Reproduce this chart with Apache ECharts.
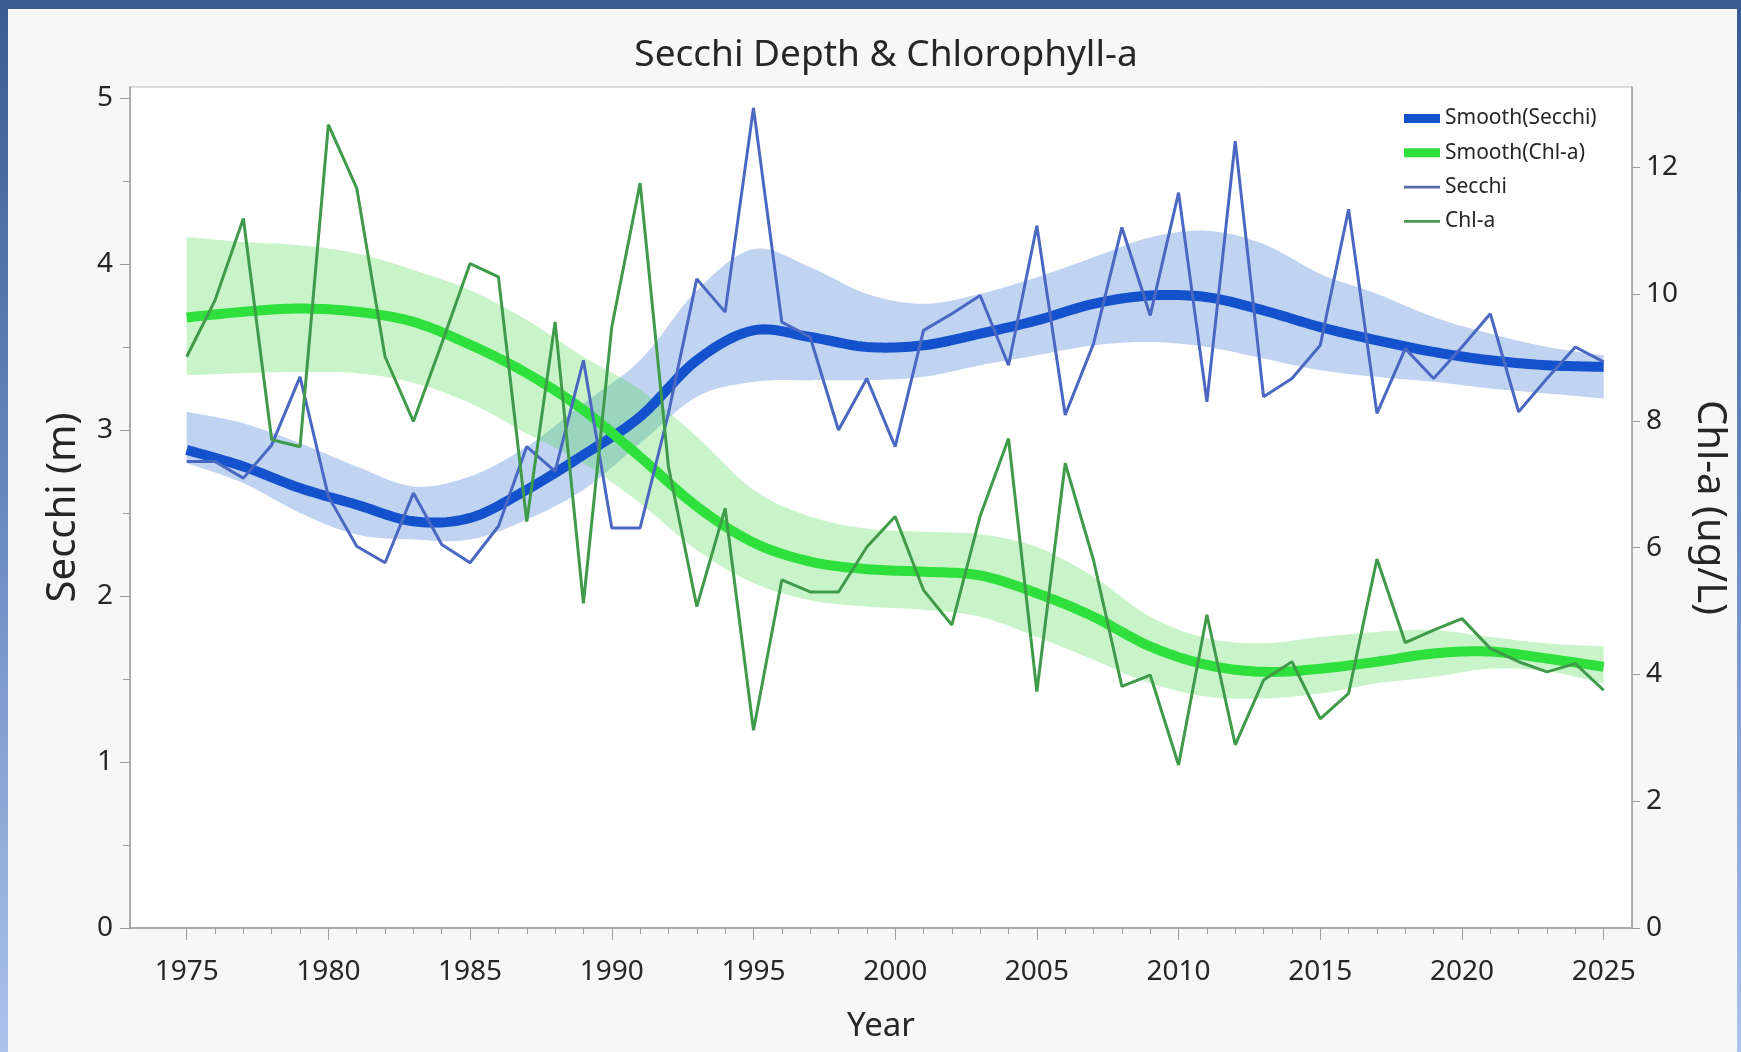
<!DOCTYPE html>
<html><head><meta charset="utf-8">
<script src="https://cdn.jsdelivr.net/npm/echarts@6/dist/echarts.min.js"></script>
<style>
html,body{margin:0;padding:0;}
body{width:1741px;height:1052px;background:linear-gradient(180deg,#3a5b8f 0%,#6a8bc0 50%,#aec3ea 100%);overflow:hidden;}
#c{position:absolute;left:0;top:0;width:1741px;height:1052px;}
</style></head><body><div id="c"></div>
<script>
const years = [1975,1976,1977,1978,1979,1980,1981,1982,1983,1984,1985,1986,1987,1988,1989,1990,1991,1992,1993,1994,1995,1996,1997,1998,1999,2000,2001,2002,2003,2004,2005,2006,2007,2008,2009,2010,2011,2012,2013,2014,2015,2016,2017,2018,2019,2020,2021,2022,2023,2024,2025];
const secchi = [2.81,2.81,2.71,2.91,3.32,2.60,2.30,2.20,2.62,2.31,2.20,2.42,2.90,2.75,3.42,2.41,2.41,3.10,3.91,3.71,4.94,3.65,3.56,3.00,3.31,2.90,3.60,3.70,3.81,3.39,4.23,3.09,3.52,4.22,3.69,4.43,3.17,4.74,3.20,3.31,3.51,4.33,3.10,3.49,3.31,3.50,3.70,3.11,3.31,3.50,3.41];
const chla = [9.01,9.90,11.19,7.70,7.59,12.67,11.67,9.01,7.99,9.22,10.48,10.27,6.41,9.56,5.12,9.48,11.75,7.28,5.07,6.62,3.12,5.49,5.30,5.30,6.01,6.49,5.33,4.78,6.50,7.72,3.73,7.33,5.80,3.81,3.99,2.57,4.94,2.89,3.91,4.20,3.30,3.70,5.82,4.50,4.70,4.88,4.41,4.20,4.04,4.17,3.75];

const smoothYears = [1975,1977,1979,1981,1983,1985,1987,1989,1991,1993,1995,1997,1999,2001,2003,2005,2007,2009,2011,2013,2015,2017,2019,2021,2023,2025];
const secchiSmooth = [2.88,2.78,2.65,2.55,2.45,2.47,2.64,2.85,3.08,3.42,3.60,3.56,3.50,3.51,3.58,3.66,3.76,3.81,3.80,3.72,3.62,3.54,3.47,3.42,3.39,3.38];
const secchiUpper  = [3.11,3.04,2.92,2.78,2.66,2.72,2.90,3.16,3.42,3.84,4.09,3.98,3.82,3.76,3.82,3.92,4.04,4.16,4.20,4.12,3.94,3.82,3.68,3.58,3.50,3.45];
const secchiLower  = [2.80,2.68,2.50,2.37,2.34,2.34,2.46,2.64,2.92,3.20,3.29,3.30,3.30,3.32,3.39,3.45,3.51,3.53,3.50,3.43,3.36,3.32,3.29,3.25,3.22,3.19];
const chlSmooth = [9.63,9.72,9.77,9.72,9.56,9.20,8.75,8.17,7.43,6.65,6.08,5.78,5.66,5.62,5.56,5.28,4.91,4.44,4.15,4.04,4.09,4.20,4.33,4.36,4.25,4.12];
const chlUpper  = [10.90,10.82,10.77,10.64,10.38,10.06,9.59,9.01,8.49,7.75,6.91,6.49,6.30,6.25,6.21,6.01,5.54,4.91,4.57,4.49,4.59,4.67,4.70,4.59,4.49,4.44];
const chlLower  = [8.72,8.75,8.77,8.75,8.60,8.28,7.80,7.33,6.70,5.96,5.44,5.17,5.07,5.02,4.91,4.59,4.23,3.86,3.65,3.62,3.70,3.86,3.96,4.09,4.05,3.86];

const xTicks = [1975,1980,1985,1990,1995,2000,2005,2010,2015,2020,2025];
const secchiTicks = [0,1,2,3,4,5];
const secchiMinorTicks = [0.5,1.5,2.5,3.5,4.5];
const chlTicks = [0,2,4,6,8,10,12];

const FONT = 'Noto Sans';
const TXT = '#262626';
const AX = '#9c9c9c';
const C_SECCHI_SMOOTH = '#1352cc';
const C_CHL_SMOOTH = '#2fe03c';
const C_SECCHI = '#4a68c2';
const C_CHL = '#3f9a4a';

// Catmull-Rom curve through the read points (rendering helper only)
function curve(xs, ys, steps) {
  const out = [];
  const n = xs.length;
  for (let i = 0; i < n - 1; i++) {
    const i0 = Math.max(i - 1, 0), i3 = Math.min(i + 2, n - 1);
    const x0 = xs[i0], x1 = xs[i], x2 = xs[i + 1], x3 = xs[i3];
    const y0 = ys[i0], y1 = ys[i], y2 = ys[i + 1], y3 = ys[i3];
    for (let s = 0; s < steps; s++) {
      const t = s / steps, t2 = t * t, t3 = t2 * t;
      const f = (a, b, c, d) => 0.5 * (2 * b + (-a + c) * t + (2 * a - 5 * b + 4 * c - d) * t2 + (-a + 3 * b - 3 * c + d) * t3);
      out.push([f(x0, x1, x2, x3), f(y0, y1, y2, y3)]);
    }
  }
  out.push([xs[n - 1], ys[n - 1]]);
  return out;
}

function bandSeries(name, yAxisIndex, upper, lower, fill) {
  return {
    name, type: 'custom', yAxisIndex, silent: true, clip: true,
    data: [[smoothYears[0], lower[0]]],
    renderItem: (params, api) => {
      const top = curve(smoothYears, upper, 12).map(p => api.coord(p));
      const bot = curve(smoothYears, lower, 12).map(p => api.coord(p)).reverse();
      return {type: 'polygon', shape: {points: top.concat(bot)}, style: {fill: fill, stroke: null}};
    }
  };
}
function smoothSeries(name, yAxisIndex, vals, color) {
  return {
    name, type: 'custom', yAxisIndex, silent: true, clip: true,
    itemStyle: {color},
    data: [[smoothYears[0], vals[0]]],
    renderItem: (params, api) => {
      const pts = curve(smoothYears, vals, 12).map(p => api.coord(p));
      return {type: 'polyline', shape: {points: pts}, style: {stroke: color, lineWidth: 10, fill: null, lineJoin: 'round', lineCap: 'butt'}};
    }
  };
}

const chart = echarts.init(document.getElementById('c'), null, {renderer: 'canvas'});
chart.setOption({
  animation: false,
  textStyle: {fontFamily: FONT},
  graphic: [{
    type: 'rect', z: -100, silent: true,
    shape: {x: 8, y: 9, width: 1729, height: 1043},
    style: {fill: '#f7f7f7'}
  }],
  title: {
    text: 'Secchi Depth & Chlorophyll-a',
    left: 886, top: 37, textAlign: 'center', padding: 0,
    textStyle: {fontFamily: FONT, fontSize: 37, fontWeight: 'normal', color: TXT}
  },
  legend: {
    orient: 'vertical', left: 1399, top: 103,
    itemWidth: 36, itemHeight: 9, itemGap: 13.3,
    selectedMode: false, symbolKeepAspect: true,
    textStyle: {fontFamily: FONT, fontSize: 21, color: TXT},
    data: [
      {name: 'Smooth(Secchi)', icon: 'path://M0,0H40V10H0Z', itemStyle: {color: C_SECCHI_SMOOTH}},
      {name: 'Smooth(Chl-a)', icon: 'path://M0,0H40V10H0Z', itemStyle: {color: C_CHL_SMOOTH}},
      {name: 'Secchi', icon: 'path://M0,0H40V3.2H0Z', itemStyle: {color: '#5469a6'}},
      {name: 'Chl-a', icon: 'path://M0,0H40V3.2H0Z', itemStyle: {color: '#4a9a52'}}
    ]
  },
  grid: {left: 130, top: 87, right: 109, bottom: 124, show: true, backgroundColor: '#ffffff', borderColor: '#bcbcbc', borderWidth: 1},
  xAxis: [{
    type: 'value', min: 1973, max: 2026, position: 'bottom',
    axisLine: {show: true, lineStyle: {color: AX, width: 1.5}},
    axisTick: {show: true, customValues: xTicks, length: 12, lineStyle: {color: AX}},
    axisLabel: {customValues: xTicks, fontSize: 28, color: TXT, margin: 30, formatter: v => String(v)},
    splitLine: {show: false},
    name: 'Year', nameLocation: 'middle', nameGap: 82,
    nameTextStyle: {fontSize: 33, color: TXT, fontFamily: FONT}
  }, {
    type: 'value', min: 1973, max: 2026, position: 'bottom',
    axisLine: {show: false},
    axisTick: {show: true, customValues: years, length: 6, lineStyle: {color: AX}},
    axisLabel: {show: false},
    splitLine: {show: false}
  }],
  yAxis: [{
    type: 'value', min: 0, max: 5.066, position: 'left',
    axisLine: {show: true, lineStyle: {color: AX, width: 1.5}},
    axisTick: {show: true, customValues: secchiTicks, length: 10, lineStyle: {color: AX}},
    axisLabel: {customValues: secchiTicks, fontSize: 28, color: TXT, margin: 17},
    splitLine: {show: false},
    name: 'Secchi (m)', nameLocation: 'middle', nameGap: 46,
    nameTextStyle: {fontSize: 40, color: TXT, fontFamily: FONT}
  }, {
    type: 'value', min: 0, max: 13.265, position: 'right',
    axisLine: {show: true, lineStyle: {color: AX, width: 1.5}},
    axisTick: {show: true, customValues: chlTicks, length: 8, lineStyle: {color: AX}},
    axisLabel: {customValues: chlTicks, fontSize: 28, color: TXT, margin: 14},
    splitLine: {show: false},
    name: 'Chl-a (ug/L)', nameLocation: 'middle', nameGap: 56, nameRotate: -90,
    nameTextStyle: {fontSize: 40, color: TXT, fontFamily: FONT}
  }, {
    type: 'value', min: 0, max: 5.066, position: 'left',
    axisLine: {show: false},
    axisTick: {show: true, customValues: secchiMinorTicks, length: 7, lineStyle: {color: AX}},
    axisLabel: {show: false},
    splitLine: {show: false}
  }],
  series: [
    bandSeries('bandSecchi', 0, secchiUpper, secchiLower, 'rgba(70,125,215,0.34)'),
    bandSeries('bandChl', 1, chlUpper, chlLower, 'rgba(60,215,60,0.28)'),
    smoothSeries('Smooth(Secchi)', 0, secchiSmooth, C_SECCHI_SMOOTH),
    smoothSeries('Smooth(Chl-a)', 1, chlSmooth, C_CHL_SMOOTH),
    {name: 'Secchi', type: 'line', yAxisIndex: 0, symbol: 'none',
     color: C_SECCHI, lineStyle: {color: C_SECCHI, width: 3}, data: years.map((y, i) => [y, secchi[i]])},
    {name: 'Chl-a', type: 'line', yAxisIndex: 1, symbol: 'none',
     color: C_CHL, lineStyle: {color: C_CHL, width: 3}, data: years.map((y, i) => [y, chla[i]])}
  ]
});
</script></body></html>
